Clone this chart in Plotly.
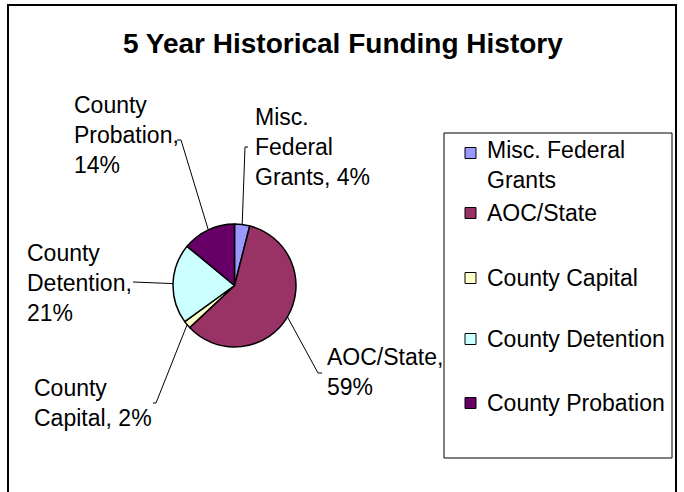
import math

import plotly.graph_objects as go

# data
labels = ['Misc. Federal Grants', 'AOC/State', 'County Capital',
          'County Detention', 'County Probation']
values = [4, 59, 2, 21, 14]
colors = ['#9999FF', '#993366', '#FFFFCC', '#CCFFFF', '#660066']

# how the names wrap on the chart and in the legend
label_wrapped = ['Misc.<br>Federal<br>Grants', 'AOC/State', 'County<br>Capital',
                 'County<br>Detention', 'County<br>Probation']
pct_sep = [' ', '<br>', ' ', '<br>', '<br>']
legend_wrapped = ['Misc. Federal<br>Grants', 'AOC/State', 'County Capital',
                  'County Detention', 'County Probation']

W, H = 684, 492
FONT = 'Arial, Liberation Sans, sans-serif'

# pie placement (pixels)
CX, CY, R = 234.5, 285.5, 61.5

# data label layout: text anchor (left, middle) and leader elbow
label_pos = [(253, 147), (325, 372), (32, 403), (25, 283), (72, 135)]
leader_start = [(248, 147), (322, 373), (153, 403), (133, 282), (177, 140)]
leader_elbow = [(245, 147), (318, 373), (156, 403), (133, 282), (181, 140)]

# legend layout
LEG_BOX = (444, 133, 672, 458)
leg_y = [153, 213, 278, 339, 403]


fig = go.Figure()

fig.add_trace(go.Pie(
    labels=labels,
    values=values,
    sort=False,
    direction='clockwise',
    rotation=0,
    textinfo='none',
    hoverinfo='label+percent',
    showlegend=False,
    marker=dict(colors=colors, line=dict(color='black', width=1.5)),
    domain=dict(x=[(CX - R) / W, (CX + R) / W],
                y=[1 - (CY + R) / H, 1 - (CY - R) / H]),
))

shapes = []
annotations = []

# outer chart border (bottom edge runs off the page like the original)
shapes.append(dict(type='rect', xref='x', yref='y', x0=8, x1=676, y0=5, y1=500,
                   line=dict(color='black', width=2)))

# data labels with leader lines to the middle of each slice
total = sum(values)
cum = 0
for i, v in enumerate(values):
    mid = (cum + v / 2) / total * 2 * math.pi
    cum += v
    ex = CX + R * math.sin(mid)
    ey = CY - R * math.cos(mid)
    sx, sy = leader_start[i]
    bx, by = leader_elbow[i]
    shapes.append(dict(type='path', xref='x', yref='y',
                       path=f'M {sx},{sy} L {bx},{by} L {ex:.1f},{ey:.1f}',
                       line=dict(color='black', width=1)))
    lx, ly = label_pos[i]
    annotations.append(dict(
        x=lx, y=ly, xref='x', yref='y', xanchor='left', yanchor='middle',
        text=f'{label_wrapped[i]},{pct_sep[i]}{v}%', showarrow=False,
        align='left', font=dict(family=FONT, size=23, color='black')))

# legend
x0, y0, x1, y1 = LEG_BOX
shapes.append(dict(type='rect', xref='x', yref='y', x0=x0, x1=x1, y0=y0, y1=y1,
                   line=dict(color='black', width=1)))
for i, name in enumerate(legend_wrapped):
    cy = leg_y[i]
    shapes.append(dict(type='rect', xref='x', yref='y',
                       x0=465, x1=476, y0=cy - 5.5, y1=cy + 5.5,
                       fillcolor=colors[i], line=dict(color='black', width=1)))
    n_lines = name.count('<br>') + 1
    annotations.append(dict(
        x=485, y=cy + (n_lines - 1) * 12, xref='x', yref='y',
        xanchor='left', yanchor='middle', text=name, showarrow=False,
        align='left', font=dict(family=FONT, size=23, color='black')))

# title
annotations.append(dict(
    x=343, y=43, xref='x', yref='y', xanchor='center', yanchor='middle',
    text='<b>5 Year Historical Funding History</b>', showarrow=False,
    font=dict(family=FONT, size=28, color='black')))

fig.update_layout(
    width=W,
    height=H,
    margin=dict(l=0, r=0, t=0, b=0),
    paper_bgcolor='white',
    plot_bgcolor='white',
    xaxis=dict(range=[0, W], visible=False, fixedrange=True, domain=[0, 1]),
    yaxis=dict(range=[H, 0], visible=False, fixedrange=True, domain=[0, 1]),
    shapes=shapes,
    annotations=annotations,
)

# drop the default 8px page margin so the figure fills the window
fig.write_html('out.html', config={'displayModeBar': False},
               post_script="document.body.style.margin = '0';")
